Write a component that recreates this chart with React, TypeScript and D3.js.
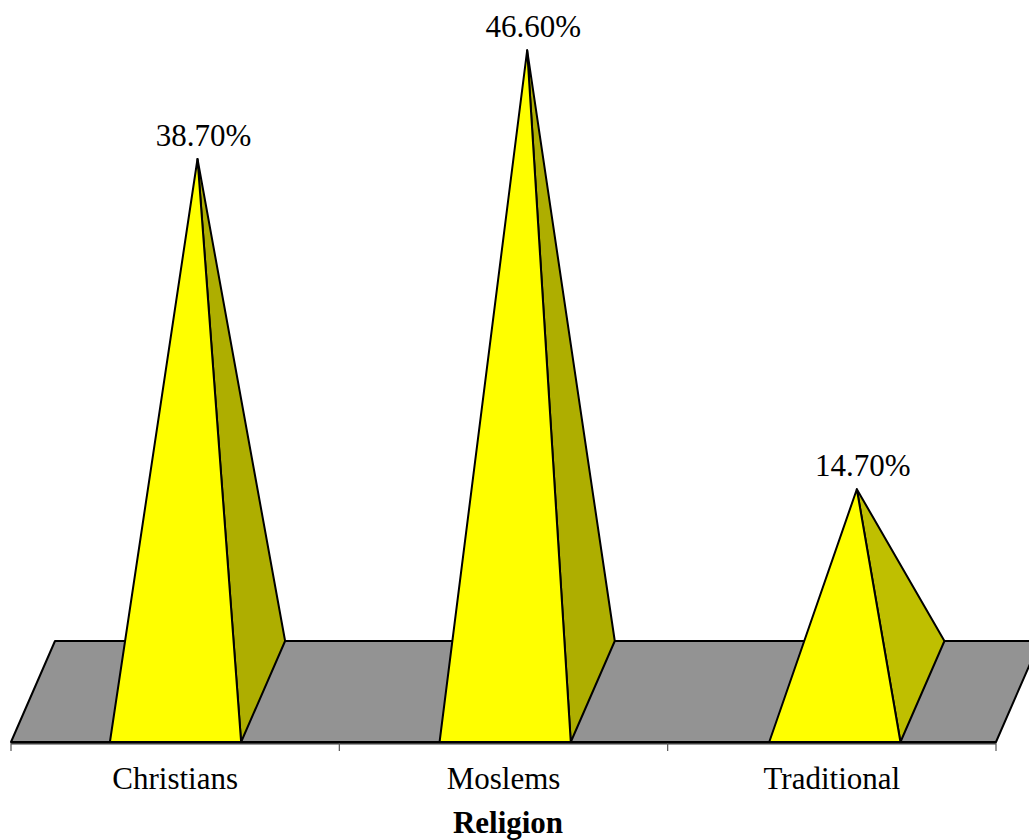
import React from "react";
import * as d3 from "d3";

// Share of population by religion (percent)
const categories = ["Christians", "Moslems", "Traditional"];
const values = [38.7, 46.6, 14.7];
const valueLabels = ["38.70%", "46.60%", "14.70%"];
const axisTitle = "Religion";

const W = 1029;
const H = 840;

// Floor geometry: front edge on y=742, receding by a fixed oblique depth vector
const floorFrontY = 742;
const depth = { dx: 44, dy: -101 };

// Category axis (ticks, labels) and the slightly wider slot grid the pyramids sit on
const x = d3.scaleBand<string>().domain(categories).range([11, 996]).paddingInner(0).paddingOuter(0);
const xBar = d3.scaleBand<string>().domain(categories).range([11, 1000]).paddingInner(0).paddingOuter(0);
const h = d3.scaleLinear().domain([0, 50]).range([0, 688]);

const font = "'Liberation Serif', 'Times New Roman', Times, serif";

export default function App() {
  const bw = x.bandwidth();
  const sb = xBar.bandwidth();
  const barW = sb * 0.398;
  const [x0, x1] = x.range();
  const line = d3.line();

  const floor = line([
    [x0, floorFrontY],
    [x1, floorFrontY],
    [x1 + depth.dx, floorFrontY + depth.dy],
    [x0 + depth.dx, floorFrontY + depth.dy],
  ]) + "Z";

  const ticks = [...categories.map((c) => x(c) as number), x1];

  return (
    <svg
      width={W}
      height={H}
      style={{ position: "absolute", left: 0, top: 0, display: "block", background: "#fff" }}
    >
      <path d={floor} fill="#939393" stroke="#000" strokeWidth={2} strokeLinejoin="round" />
      <line x1={x0} x2={x1} y1={floorFrontY + 1} y2={floorFrontY + 1} stroke="#000" strokeWidth={1.5} />
      <line x1={x0} x2={x1} y1={floorFrontY + 2.5} y2={floorFrontY + 2.5} stroke="#9a9a9a" strokeWidth={1} />
      {ticks.map((t, i) => (
        <line key={i} x1={t} x2={t} y1={floorFrontY + 1} y2={floorFrontY + 9} stroke="#555" strokeWidth={1.2} />
      ))}
      {categories.map((c, i) => {
        const fl = (xBar(c) as number) + sb * 0.3;
        const fr = fl + barW;
        const br: [number, number] = [fr + depth.dx, floorFrontY + depth.dy];
        const cx = (fl + fr) / 2 + depth.dx / 2;
        const cy = floorFrontY + depth.dy / 2;
        const apex: [number, number] = [cx, cy - h(values[i])];
        const front = line([apex, [fl, floorFrontY], [fr, floorFrontY]]) + "Z";
        const side = line([apex, [fr, floorFrontY], br]) + "Z";
        const sideFill = i === 2 ? "#BFBF00" : "#AEAE00";
        return (
          <g key={c}>
            <path d={side} fill={sideFill} stroke="#000" strokeWidth={2} strokeLinejoin="round" />
            <path d={front} fill="#FFFF00" stroke="#000" strokeWidth={2} strokeLinejoin="round" />
            <text
              x={apex[0] + 6}
              y={apex[1] - 13}
              textAnchor="middle"
              fontFamily={font}
              fontSize={31}
              fill="#000"
            >
              {valueLabels[i]}
            </text>
            <text
              x={(x(c) as number) + bw / 2}
              y={789}
              textAnchor="middle"
              fontFamily={font}
              fontSize={31}
              fill="#000"
            >
              {c}
            </text>
          </g>
        );
      })}
      <text x={508} y={833} textAnchor="middle" fontFamily={font} fontSize={31} fontWeight="bold" fill="#000">
        {axisTitle}
      </text>
    </svg>
  );
}
